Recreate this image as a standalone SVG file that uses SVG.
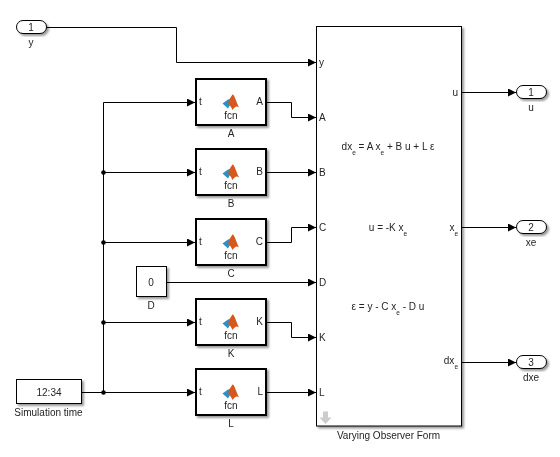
<svg xmlns="http://www.w3.org/2000/svg" width="560" height="457" viewBox="0 0 560 457">
<style>
text{font-family:"Liberation Sans",Arial,sans-serif;font-size:10px;fill:#222;text-anchor:middle;opacity:.99}
.l{text-anchor:start}.r{text-anchor:end}
.sub{font-size:6.500px}
.thin{fill:#fff;stroke:#000;stroke-width:1}
.thick{fill:#fff;stroke:#000;stroke-width:2}
.w{fill:none;stroke:#000;stroke-width:1}
.s{filter:url(#sh)}
</style>
<defs>
<filter id="sh" x="-20%" y="-20%" width="140%" height="140%"><feDropShadow dx="2" dy="2" stdDeviation="1.200" flood-color="#000" flood-opacity="0.4"/></filter>
<marker id="a" markerUnits="userSpaceOnUse" markerWidth="8" markerHeight="8" refX="8" refY="4" orient="auto"><path d="M0 0L8 4L0 8Z" fill="#000"/></marker>
<g id="logo"><path d="M-8.500 1.500L-3 -2.500L-0.500 -3L-1 3L-3 6.500Z" fill="#2f8fc4"/><path d="M-1.500 -3L1.500 -7.500C3 -8.500 5 -1 8 5.500C5.500 3.500 4 4.500 1.500 8C0.500 5.500 -1 3.500 -3 1.500Z" fill="#d5581f"/></g>
</defs>
<g id="connectors">
<path class="w" marker-end="url(#a)" d="M46.500 27.500H176.500V62.500H316"/>
<path class="w" d="M103.500 102.500V392.500"/>
<path class="w" marker-end="url(#a)" d="M103.500 102.500H195"/>
<path class="w" marker-end="url(#a)" d="M103.500 172.500H195"/>
<path class="w" marker-end="url(#a)" d="M103.500 242.500H195"/>
<path class="w" marker-end="url(#a)" d="M103.500 322.500H195"/>
<path class="w" marker-end="url(#a)" d="M81.500 392.500H195"/>
<circle cx="103.500" cy="172.500" r="2.300"/><circle cx="103.500" cy="242.500" r="2.300"/><circle cx="103.500" cy="322.500" r="2.300"/><circle cx="103.500" cy="392.500" r="2.300"/>
<path class="w" marker-end="url(#a)" d="M267 102.500H291.500V117.500H316"/>
<path class="w" marker-end="url(#a)" d="M267 172.500H316"/>
<path class="w" marker-end="url(#a)" d="M267 242.500H291.500V227.500H316"/>
<path class="w" marker-end="url(#a)" d="M166.500 282.500H316"/>
<path class="w" marker-end="url(#a)" d="M267 322.500H291.500V337.500H316"/>
<path class="w" marker-end="url(#a)" d="M267 392.500H316"/>
<path class="w" marker-end="url(#a)" d="M462 92.500H516"/>
<path class="w" marker-end="url(#a)" d="M462 227.500H516"/>
<path class="w" marker-end="url(#a)" d="M462 362.500H516"/>
</g>
<g id="in-y"><rect class="thin s" x="16.500" y="20.500" width="30" height="13" rx="6.500"/><text x="31" y="31">1</text><text x="31" y="46">y</text></g>
<g id="fcn-A"><rect class="thick s" x="196" y="79" width="70" height="46"/><use href="#logo" x="231" y="102"/><text class="l" x="199" y="105">t</text><text class="r" x="263" y="105">A</text><text x="231" y="119">fcn</text><text x="231" y="137">A</text></g>
<g id="fcn-B"><rect class="thick s" x="196" y="149" width="70" height="46"/><use href="#logo" x="231" y="172"/><text class="l" x="199" y="175">t</text><text class="r" x="263" y="175">B</text><text x="231" y="189">fcn</text><text x="231" y="207">B</text></g>
<g id="fcn-C"><rect class="thick s" x="196" y="219" width="70" height="46"/><use href="#logo" x="231" y="242"/><text class="l" x="199" y="245">t</text><text class="r" x="263" y="245">C</text><text x="231" y="259">fcn</text><text x="231" y="277">C</text></g>
<g id="const-D"><rect class="thin s" x="136.500" y="266.500" width="30" height="30"/><text x="151" y="286">0</text><text x="151" y="309">D</text></g>
<g id="fcn-K"><rect class="thick s" x="196" y="299" width="70" height="46"/><use href="#logo" x="231" y="322"/><text class="l" x="199" y="325">t</text><text class="r" x="263" y="325">K</text><text x="231" y="339">fcn</text><text x="231" y="357">K</text></g>
<g id="fcn-L"><rect class="thick s" x="196" y="369" width="70" height="46"/><use href="#logo" x="231" y="392"/><text class="l" x="199" y="395">t</text><text class="r" x="263" y="395">L</text><text x="231" y="409">fcn</text><text x="231" y="427">L</text></g>
<g id="clock"><rect class="thin s" x="16.500" y="379.500" width="65" height="24"/><text x="49" y="396">12:34</text><text x="48.500" y="416">Simulation time</text></g>
<g id="observer"><rect class="thin s" x="316.500" y="26.500" width="145" height="399.500"/>
<text class="l" x="319" y="66">y</text><text class="l" x="319" y="121">A</text><text class="l" x="319" y="176">B</text><text class="l" x="319" y="231">C</text><text class="l" x="319" y="286">D</text><text class="l" x="319" y="341">K</text><text class="l" x="319" y="396">L</text>
<text class="r" x="458" y="96">u</text>
<text class="r" x="458" y="231">x<tspan class="sub" dy="5">e</tspan></text>
<text class="r" x="458" y="364">dx<tspan class="sub" dy="5">e</tspan></text>
<text x="388" y="150">dx<tspan class="sub" dy="5">e</tspan><tspan dy="-5"> = A x</tspan><tspan class="sub" dy="5">e</tspan><tspan dy="-5"> + B u + L ε</tspan></text>
<text x="388" y="231">u = -K x<tspan class="sub" dy="5">e</tspan></text>
<text x="388" y="310">ε = y - C x<tspan class="sub" dy="5">e</tspan><tspan dy="-5"> - D u</tspan></text>
<path d="M323 411.500h5v6h3.500l-6 6.500l-6 -6.500h3.500z" fill="#ccc"/>
<text x="388.500" y="439">Varying Observer Form</text></g>
<g id="out-u"><rect class="thin s" x="516.500" y="85.500" width="30" height="13" rx="6.500"/><text x="531" y="96">1</text><text x="531" y="111">u</text></g>
<g id="out-xe"><rect class="thin s" x="516.500" y="220.500" width="30" height="13" rx="6.500"/><text x="531" y="231">2</text><text x="531" y="246">xe</text></g>
<g id="out-dxe"><rect class="thin s" x="516.500" y="355.500" width="30" height="13" rx="6.500"/><text x="531" y="366">3</text><text x="531" y="381">dxe</text></g>
</svg>
